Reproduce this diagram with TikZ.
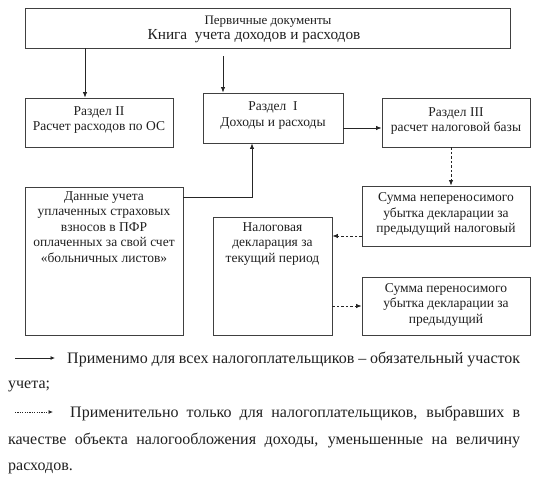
\documentclass[tikz,border=0pt]{standalone}
\usepackage{fontspec}
\setmainfont{Liberation Serif}
\usetikzlibrary{arrows.meta,calc}
\begin{document}
\begin{tikzpicture}[x=1pt,y=-1pt,
  box/.style={draw=black!75,line width=0.9pt,rectangle,inner sep=0pt},
  btxt/.style={align=center,font=\fontsize{13.5}{15.5}\selectfont,text=black!88,inner sep=0pt},
  ltxt/.style={anchor=base west,font=\fontsize{16}{18}\selectfont,text=black!88,inner sep=0pt},
  solidarrow/.style={draw=black!85,line width=0.8pt,-{Latex[length=5.5pt,width=4.5pt]}},
  dasharrow/.style={draw=black!85,line width=0.8pt,dash pattern=on 2.5pt off 2pt,-{Latex[length=5.5pt,width=4.5pt]}}
]
\useasboundingbox (0,0) rectangle (536,481);
% boxes
\node[box,minimum width=485pt,minimum height=40pt] (top) at (267.5,28) {};
\node[btxt,font=\fontsize{13}{14}\selectfont] (toptxt1) at (268,21.5) {Первичные документы};
\node[btxt,font=\fontsize{15.3}{16}\selectfont] (toptxt2) at (254,36) {Книга\ \ учета доходов и расходов};

\node[box,minimum width=148pt,minimum height=49pt] (r2) at (99,122.5) {};
\node[btxt] (r2t) at (99,120) {Раздел II\\Расчет расходов по ОС};

\node[box,minimum width=140pt,minimum height=50pt] (r1) at (273,118) {};
\node[btxt] (r1t) at (273,115.5) {Раздел\ \ I\\Доходы и расходы};

\node[box,minimum width=148pt,minimum height=49pt] (r3) at (456,122.5) {};
\node[btxt] (r3t) at (456,121) {Раздел III\\расчет налоговой базы};

\node[box,minimum width=158pt,minimum height=148pt] (dn) at (104,261) {};
\node[btxt,anchor=north] (dnt) at (104,191) {Данные учета\\уплаченных страховых\\взносов в ПФР\\оплаченных за свой счет\\«больничных листов»};

\node[box,minimum width=119pt,minimum height=118pt] (nd) at (272.5,276) {};
\node[btxt,anchor=north] (ndt) at (272.5,222) {Налоговая\\декларация за\\текущий период};

\node[box,minimum width=168pt,minimum height=60pt] (sn) at (446,216) {};
\node[btxt] (snt) at (446,214) {Сумма непереносимого\\убытка декларации за\\предыдущий налоговый};

\node[box,minimum width=168pt,minimum height=58pt] (sp) at (446,306) {};
\node[btxt] (spt) at (446,304.5) {Сумма переносимого\\убытка декларации за\\предыдущий};

% helper coordinates
\coordinate (xa) at (85,0);
\coordinate (xb) at (223,0);
\coordinate (xc) at (451,0);
\coordinate (xd) at (252,0);
\coordinate (y128) at (0,128);
\coordinate (y197) at (0,197);
\coordinate (y236) at (0,236);

% connectors
\draw[solidarrow] (top.south -| xa) -- (r2.north -| xa);
\draw[solidarrow,shorten <=8pt] (top.south -| xb) -- (r1.north -| xb);
\draw[solidarrow] (r1.east |- y128) -- (r3.west |- y128);
\draw[dasharrow] (r3.south -| xc) -- (sn.north -| xc);
\draw[solidarrow] (dn.east |- y197) -| (r1.south -| xd);
\draw[dasharrow] (sn.west |- y236) -- (nd.east |- y236);
\draw[dasharrow] (nd.east |- sp.west) -- (sp.west);

% legend
\coordinate (l1a) at (15,358);
\coordinate (l1b) at (55,358);
\coordinate (l2a) at (15,412);
\coordinate (l2b) at (53,412);
\draw[solidarrow,-{Latex[length=4.5pt,width=4pt]}] (l1a) -- (l1b);
\draw[dasharrow,dash pattern=on 1.2pt off 1.2pt,-{Latex[length=4.5pt,width=4pt]}] (l2a) -- (l2b);
\node[ltxt] (lg1) at (67,363.5) {\makebox[453pt][s]{Применимо для всех налогоплательщиков – обязательный участок}};
\node[ltxt] (lg2) at (8,388.5) {учета;};
\node[ltxt] (lg3) at (70,417.5) {\makebox[450pt][s]{Применительно только для налогоплательщиков, выбравших в}};
\node[ltxt] (lg4) at (8,444.5) {\makebox[512pt][s]{качестве объекта налогообложения доходы, уменьшенные на величину}};
\node[ltxt] (lg5) at (8,470.5) {расходов.};
\end{tikzpicture}
\end{document}
